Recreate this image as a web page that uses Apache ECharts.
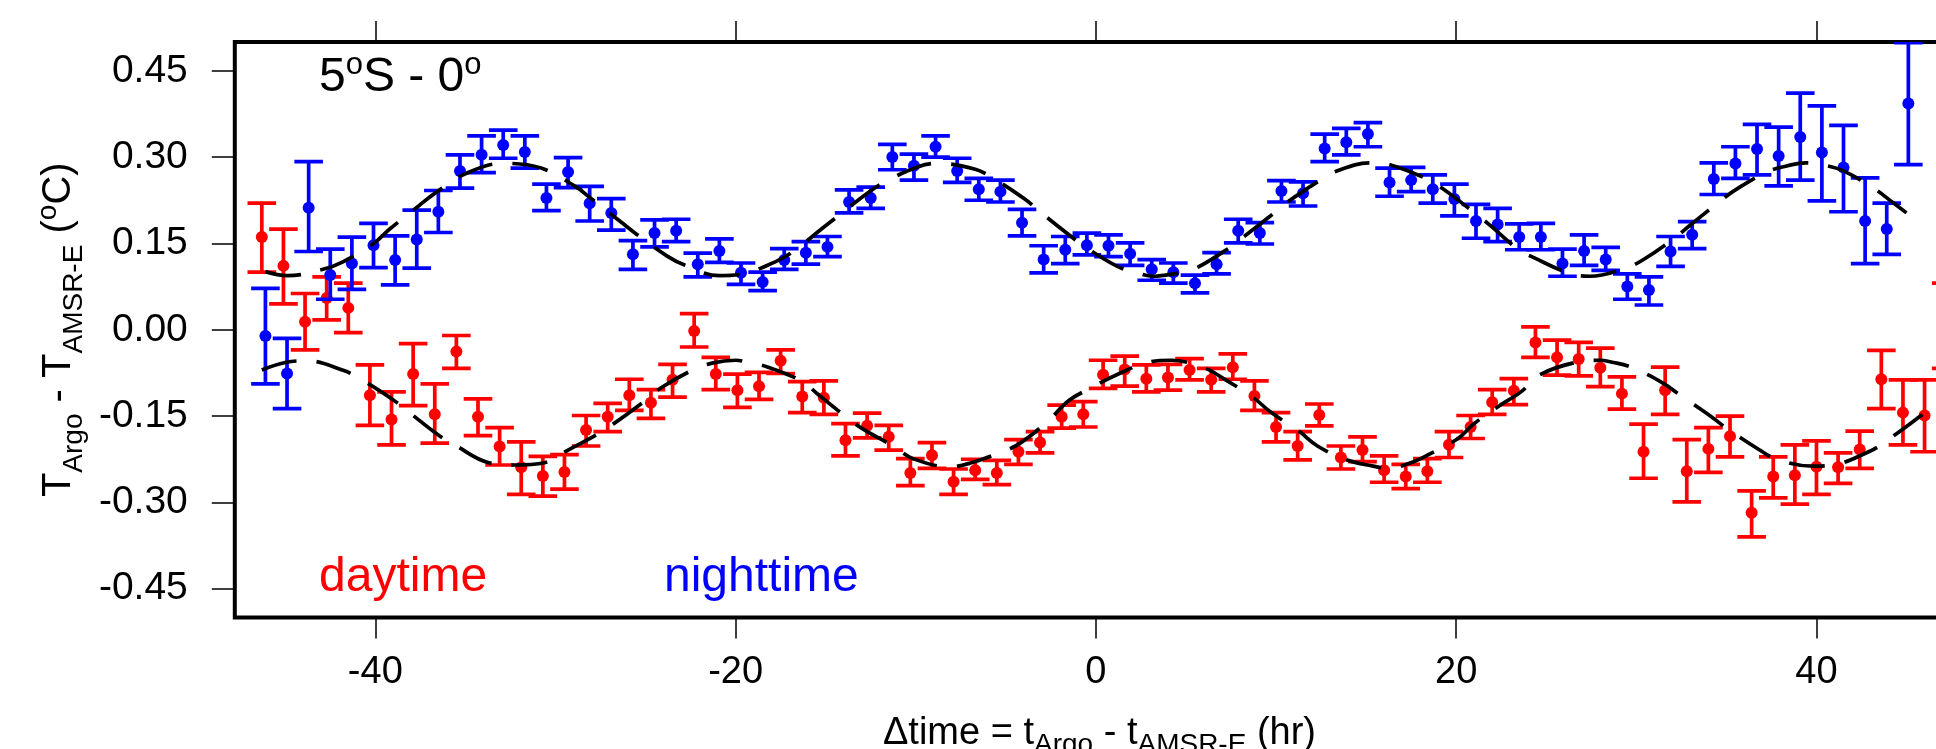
<!DOCTYPE html>
<html>
<head>
<meta charset="utf-8">
<script src="https://cdn.jsdelivr.net/npm/echarts@6/dist/echarts.min.js"></script>
<style>
html,body{margin:0;padding:0;background:#fff;}
#chart{width:1936px;height:749px;}
</style>
</head>
<body>
<div id="chart"></div>
<script>
// ---------- data ----------
const xTicks = [-40, -20, 0, 20, 40];
const yTicks = [-0.45, -0.30, -0.15, 0.00, 0.15, 0.30, 0.45];

// nighttime (blue) points: x, mean, lower, upper
const nightX  = [-46.1,-44.9,-43.7,-42.5,-41.3,-40.1,-38.9,-37.7,-36.5,-35.3,-34.1,-32.9,-31.7,-30.5,-29.3,-28.1,-26.9,-25.7,-24.5,-23.3,-22.1,-20.9,-19.7,-18.5,-17.3,-16.1,-14.9,-13.7,-12.5,-11.3,-10.1,-8.9,-7.7,-6.5,-5.3,-4.1,-2.9,-1.7,-0.5,0.7,1.9,3.1,4.3,5.5,6.7,7.9,9.1,10.3,11.5,12.7,13.9,15.1,16.3,17.5,18.7,19.9,21.1,22.3,23.5,24.7,25.9,27.1,28.3,29.5,30.7,31.9,33.1,34.3,35.5,36.7,37.9,39.1,40.3,41.5,42.7,43.9,45.1];
const nightY  = [-0.011,-0.076,0.212,0.095,0.115,0.147,0.121,0.157,0.205,0.276,0.304,0.321,0.309,0.229,0.274,0.220,0.203,0.131,0.168,0.172,0.114,0.137,0.099,0.083,0.121,0.134,0.144,0.222,0.229,0.300,0.285,0.318,0.276,0.244,0.240,0.186,0.122,0.139,0.147,0.146,0.132,0.105,0.100,0.081,0.114,0.172,0.168,0.241,0.237,0.315,0.326,0.340,0.256,0.260,0.244,0.227,0.189,0.183,0.161,0.161,0.115,0.137,0.122,0.075,0.069,0.136,0.165,0.262,0.289,0.314,0.302,0.335,0.308,0.282,0.189,0.175,0.393];
const nightLo = [-0.094,-0.137,0.136,0.053,0.070,0.108,0.078,0.107,0.169,0.246,0.273,0.298,0.281,0.207,0.247,0.189,0.173,0.105,0.144,0.153,0.092,0.117,0.079,0.068,0.105,0.114,0.127,0.203,0.211,0.278,0.260,0.300,0.256,0.225,0.222,0.163,0.099,0.115,0.130,0.127,0.112,0.086,0.081,0.064,0.097,0.151,0.149,0.222,0.215,0.292,0.304,0.318,0.232,0.240,0.220,0.198,0.159,0.153,0.139,0.139,0.093,0.112,0.103,0.053,0.043,0.110,0.141,0.235,0.263,0.269,0.250,0.260,0.224,0.205,0.115,0.131,0.287];
const nightHi = [0.072,-0.015,0.292,0.140,0.161,0.185,0.163,0.208,0.242,0.304,0.337,0.347,0.337,0.253,0.299,0.249,0.228,0.155,0.191,0.192,0.133,0.158,0.116,0.100,0.141,0.153,0.162,0.243,0.248,0.322,0.305,0.337,0.298,0.263,0.260,0.209,0.146,0.162,0.168,0.165,0.151,0.122,0.116,0.095,0.134,0.192,0.186,0.259,0.257,0.340,0.350,0.360,0.281,0.282,0.269,0.253,0.218,0.211,0.184,0.185,0.140,0.165,0.143,0.097,0.092,0.162,0.188,0.290,0.318,0.357,0.352,0.411,0.389,0.355,0.264,0.220,0.499];

// daytime (red) points: x, mean, lower, upper
const dayX  = [-46.3,-45.1,-43.9,-42.7,-41.5,-40.3,-39.1,-37.9,-36.7,-35.5,-34.3,-33.1,-31.9,-30.7,-29.5,-28.3,-27.1,-25.9,-24.7,-23.5,-22.3,-21.1,-19.9,-18.7,-17.5,-16.3,-15.1,-13.9,-12.7,-11.5,-10.3,-9.1,-7.9,-6.7,-5.5,-4.3,-3.1,-1.9,-0.7,0.4,1.6,2.8,4.0,5.2,6.4,7.6,8.8,10.0,11.2,12.4,13.6,14.8,16.0,17.2,18.4,19.6,20.8,22.0,23.2,24.4,25.6,26.8,28.0,29.2,30.4,31.6,32.8,34.0,35.2,36.4,37.6,38.8,40.0,41.2,42.4,43.6,44.8,46.0,47.2];
const dayY  = [0.161,0.111,0.014,0.055,0.038,-0.114,-0.156,-0.077,-0.147,-0.038,-0.151,-0.203,-0.239,-0.254,-0.247,-0.174,-0.151,-0.114,-0.127,-0.087,-0.002,-0.077,-0.105,-0.098,-0.054,-0.116,-0.118,-0.192,-0.167,-0.186,-0.249,-0.218,-0.264,-0.244,-0.249,-0.212,-0.196,-0.151,-0.147,-0.078,-0.069,-0.085,-0.083,-0.070,-0.087,-0.065,-0.115,-0.169,-0.202,-0.148,-0.222,-0.209,-0.244,-0.255,-0.246,-0.200,-0.169,-0.126,-0.106,-0.022,-0.048,-0.051,-0.066,-0.111,-0.212,-0.105,-0.246,-0.207,-0.185,-0.318,-0.255,-0.253,-0.238,-0.239,-0.208,-0.086,-0.144,-0.149,0.007];
const dayLo = [0.100,0.045,-0.035,0.017,-0.005,-0.166,-0.200,-0.132,-0.197,-0.067,-0.184,-0.235,-0.286,-0.289,-0.277,-0.202,-0.177,-0.140,-0.154,-0.117,-0.030,-0.104,-0.135,-0.121,-0.076,-0.144,-0.147,-0.219,-0.188,-0.209,-0.271,-0.241,-0.286,-0.260,-0.269,-0.234,-0.214,-0.171,-0.169,-0.102,-0.098,-0.108,-0.105,-0.087,-0.108,-0.086,-0.140,-0.195,-0.226,-0.167,-0.242,-0.229,-0.265,-0.276,-0.265,-0.222,-0.189,-0.147,-0.130,-0.048,-0.079,-0.080,-0.099,-0.138,-0.258,-0.147,-0.299,-0.248,-0.221,-0.360,-0.292,-0.303,-0.286,-0.267,-0.241,-0.137,-0.200,-0.212,-0.067];
const dayHi = [0.220,0.175,0.063,0.092,0.081,-0.061,-0.108,-0.024,-0.094,-0.010,-0.120,-0.170,-0.195,-0.220,-0.217,-0.149,-0.128,-0.086,-0.104,-0.060,0.028,-0.048,-0.077,-0.074,-0.035,-0.090,-0.089,-0.163,-0.145,-0.166,-0.224,-0.196,-0.242,-0.225,-0.227,-0.191,-0.177,-0.131,-0.125,-0.053,-0.046,-0.061,-0.060,-0.050,-0.067,-0.042,-0.089,-0.144,-0.177,-0.129,-0.202,-0.186,-0.219,-0.234,-0.224,-0.177,-0.149,-0.104,-0.085,0.005,-0.018,-0.022,-0.032,-0.082,-0.164,-0.065,-0.191,-0.170,-0.150,-0.280,-0.221,-0.200,-0.193,-0.214,-0.176,-0.036,-0.087,-0.087,0.081];

// dashed fit curves
const nightFitX = [-46.1,-44.9,-42.9,-41.8,-40.1,-39.2,-37.6,-36.7,-35.0,-32.9,-30.8,-28.9,-28.1,-26.4,-25.5,-23.8,-22.8,-20.9,-19.8,-17.8,-16.8,-15.2,-14.3,-12.65,-11.7,-9.9,-8.8,-6.7,-5.7,-3.95,-3.1,-1.5,-0.6,1.14,2.25,3.2,4.3,5.4,7.15,8.1,9.7,10.6,12.3,13.3,15.3,16.4,18.3,19.3,20.9,21.9,23.4,24.4,26.3,27.4,29.4,30.4,32.1,33.0,34.6,35.5,37.3,38.4,39.4,40.4,41.5,43.3,44.2,45.0];
const nightFitY = [0.101,0.094,0.105,0.118,0.150,0.175,0.215,0.237,0.271,0.289,0.281,0.249,0.230,0.188,0.166,0.128,0.112,0.094,0.096,0.118,0.136,0.176,0.198,0.238,0.257,0.283,0.289,0.279,0.263,0.227,0.205,0.165,0.144,0.111,0.099,0.093,0.097,0.105,0.137,0.159,0.198,0.221,0.257,0.275,0.290,0.286,0.263,0.244,0.206,0.181,0.141,0.124,0.098,0.093,0.107,0.122,0.159,0.182,0.222,0.243,0.275,0.285,0.290,0.286,0.276,0.243,0.222,0.203];
const dayFitX = [-46.3,-45.0,-43.8,-41.75,-40.8,-39.0,-38.1,-36.5,-35.6,-33.7,-32.3,-30.6,-29.3,-27.7,-26.8,-25.1,-24.2,-22.45,-21.3,-20.0,-19.4,-18.2,-16.3,-15.4,-13.8,-12.9,-11.2,-10.15,-8.1,-7.0,-5.2,-4.2,-2.6,-1.5,-0.2,1.1,3.0,4.2,5.0,6.1,7.2,8.7,9.7,11.3,12.3,13.9,15.4,16.3,17.4,18.4,20.1,21.0,22.4,23.6,24.6,26.6,28.0,28.6,29.7,31.5,32.4,34.2,35.0,36.8,37.8,39.8,40.9,42.9,43.8,46.6,47.5];
const dayFitY = [-0.070,-0.057,-0.054,-0.071,-0.086,-0.122,-0.144,-0.183,-0.200,-0.231,-0.235,-0.231,-0.209,-0.182,-0.164,-0.125,-0.102,-0.071,-0.058,-0.053,-0.056,-0.065,-0.090,-0.113,-0.153,-0.173,-0.203,-0.224,-0.238,-0.232,-0.212,-0.197,-0.157,-0.123,-0.100,-0.079,-0.056,-0.053,-0.056,-0.067,-0.087,-0.117,-0.143,-0.177,-0.202,-0.226,-0.237,-0.241,-0.232,-0.218,-0.189,-0.163,-0.132,-0.108,-0.079,-0.057,-0.053,-0.056,-0.065,-0.093,-0.113,-0.152,-0.171,-0.208,-0.225,-0.237,-0.235,-0.212,-0.195,-0.131,-0.112];

// ---------- build ----------
function zip4(a, b, c, d) { return a.map((v, i) => [v, b[i], c[i], d[i]]); }
function zip2(a, b) { return a.map((v, i) => [v, b[i]]); }

const RED = '#ff0000', BLUE = '#0000ff';
const FONT = '"Liberation Sans", Arial, Helvetica, sans-serif';

function errorBars(color) {
  return function (params, api) {
    const x = api.value(0), y = api.value(1), lo = api.value(2), hi = api.value(3);
    const pLo = api.coord([x, lo]);
    const pHi = api.coord([x, hi]);
    const p = api.coord([x, y]);
    const cw = 14.3;
    const st = { stroke: color, lineWidth: 3.7, fill: null };
    return {
      type: 'group',
      children: [
        { type: 'line', shape: { x1: pLo[0], y1: pLo[1], x2: pHi[0], y2: pHi[1] }, style: st },
        { type: 'line', shape: { x1: pLo[0] - cw, y1: pLo[1], x2: pLo[0] + cw, y2: pLo[1] }, style: st },
        { type: 'line', shape: { x1: pHi[0] - cw, y1: pHi[1], x2: pHi[0] + cw, y2: pHi[1] }, style: st },
        { type: 'circle', shape: { cx: p[0], cy: p[1], r: 6 }, style: { fill: color } }
      ]
    };
  };
}

const chart = echarts.init(document.getElementById('chart'), null, { renderer: 'canvas' });

const option = {
  animation: false,
  backgroundColor: '#fff',
  grid: {
    left: 234.8, top: 42, width: 1729.4, height: 575.5,
    outerBoundsMode: 'none', containLabel: false,
    show: true, borderColor: '#000', borderWidth: 4, backgroundColor: 'transparent'
  },
  xAxis: [
    {
      type: 'value', min: -47.8, max: 48.2, position: 'bottom',
      axisLine: { show: false, onZero: false },
      splitLine: { show: false },
      axisTick: { show: true, length: 21, customValues: xTicks, lineStyle: { color: '#000', width: 1.5 } },
      axisLabel: { show: true, customValues: xTicks, margin: 36, color: '#000', fontSize: 38, fontFamily: FONT,
                   formatter: v => String(v) },
      name: 'Δtime = t{sub|Argo} - t{sub|AMSR-E} (hr)',
      nameLocation: 'middle', nameGap: 91,
      nameTextStyle: {
        color: '#000', fontSize: 38, fontFamily: FONT,
        rich: { sub: { fontSize: 28, fontFamily: FONT, color: '#000', padding: [23, 0, 0, 0] } }
      }
    },
    {
      type: 'value', min: -47.8, max: 48.2, position: 'top',
      axisLine: { show: false, onZero: false }, splitLine: { show: false },
      axisTick: { show: true, length: 21, customValues: xTicks, lineStyle: { color: '#000', width: 1.5 } },
      axisLabel: { show: false }
    }
  ],
  yAxis: {
    type: 'value', min: -0.5, max: 0.5, position: 'left',
    axisLine: { show: false, onZero: false }, splitLine: { show: false },
    axisTick: { show: true, length: 23, customValues: yTicks, lineStyle: { color: '#000', width: 1.5 } },
    axisLabel: { show: true, customValues: yTicks, margin: 47, color: '#000', fontSize: 39, fontFamily: FONT,
                 formatter: v => v.toFixed(2) },
    name: 'T{sub|Argo} - T{sub|AMSR-E} ({sup|o}C)',
    nameLocation: 'middle', nameRotate: 90, nameGap: 141,
    nameTextStyle: {
      color: '#000', fontSize: 40, fontFamily: FONT,
      rich: {
        sub: { fontSize: 28, fontFamily: FONT, color: '#000', padding: [30, 0, 0, 0] },
        sup: { fontSize: 28, fontFamily: FONT, color: '#000', padding: [0, 0, 22, 0] }
      }
    }
  },
  graphic: [
    {
      type: 'text', left: 319, top: 50, z: 100,
      style: {
        text: '5{sup|o}S - 0{sup|o}', fill: '#000', fontSize: 48, fontFamily: FONT,
        rich: { sup: { fontSize: 31, fontFamily: FONT, fill: '#000', padding: [0, 0, 24, 0] } }
      }
    },
    { type: 'text', x: 319, y: 578, z: 100,
      style: { text: 'daytime', fill: RED, fontSize: 48, fontFamily: FONT, verticalAlign: 'middle', align: 'left' } },
    { type: 'text', x: 664, y: 578, z: 100,
      style: { text: 'nighttime', fill: BLUE, fontSize: 48, fontFamily: FONT, verticalAlign: 'middle', align: 'left' } }
  ],
  series: [
    {
      type: 'custom', name: 'daytime', renderItem: errorBars(RED),
      data: zip4(dayX, dayY, dayLo, dayHi), encode: { x: 0, y: 1 }, z: 2, clip: true
    },
    {
      type: 'custom', name: 'nighttime', renderItem: errorBars(BLUE),
      data: zip4(nightX, nightY, nightLo, nightHi), encode: { x: 0, y: 1 }, z: 3, clip: true
    },
    {
      type: 'line', name: 'day fit', data: zip2(dayFitX, dayFitY), showSymbol: false, symbol: 'none',
      smooth: 0.4, z: 5, clip: true,
      lineStyle: { color: '#000', width: 3.7, type: [36, 20], cap: 'butt' }
    },
    {
      type: 'line', name: 'night fit', data: zip2(nightFitX, nightFitY), showSymbol: false, symbol: 'none',
      smooth: 0.4, z: 5, clip: true,
      lineStyle: { color: '#000', width: 3.7, type: [36, 20], cap: 'butt' }
    }
  ]
};
chart.setOption(option);
</script>
</body>
</html>
